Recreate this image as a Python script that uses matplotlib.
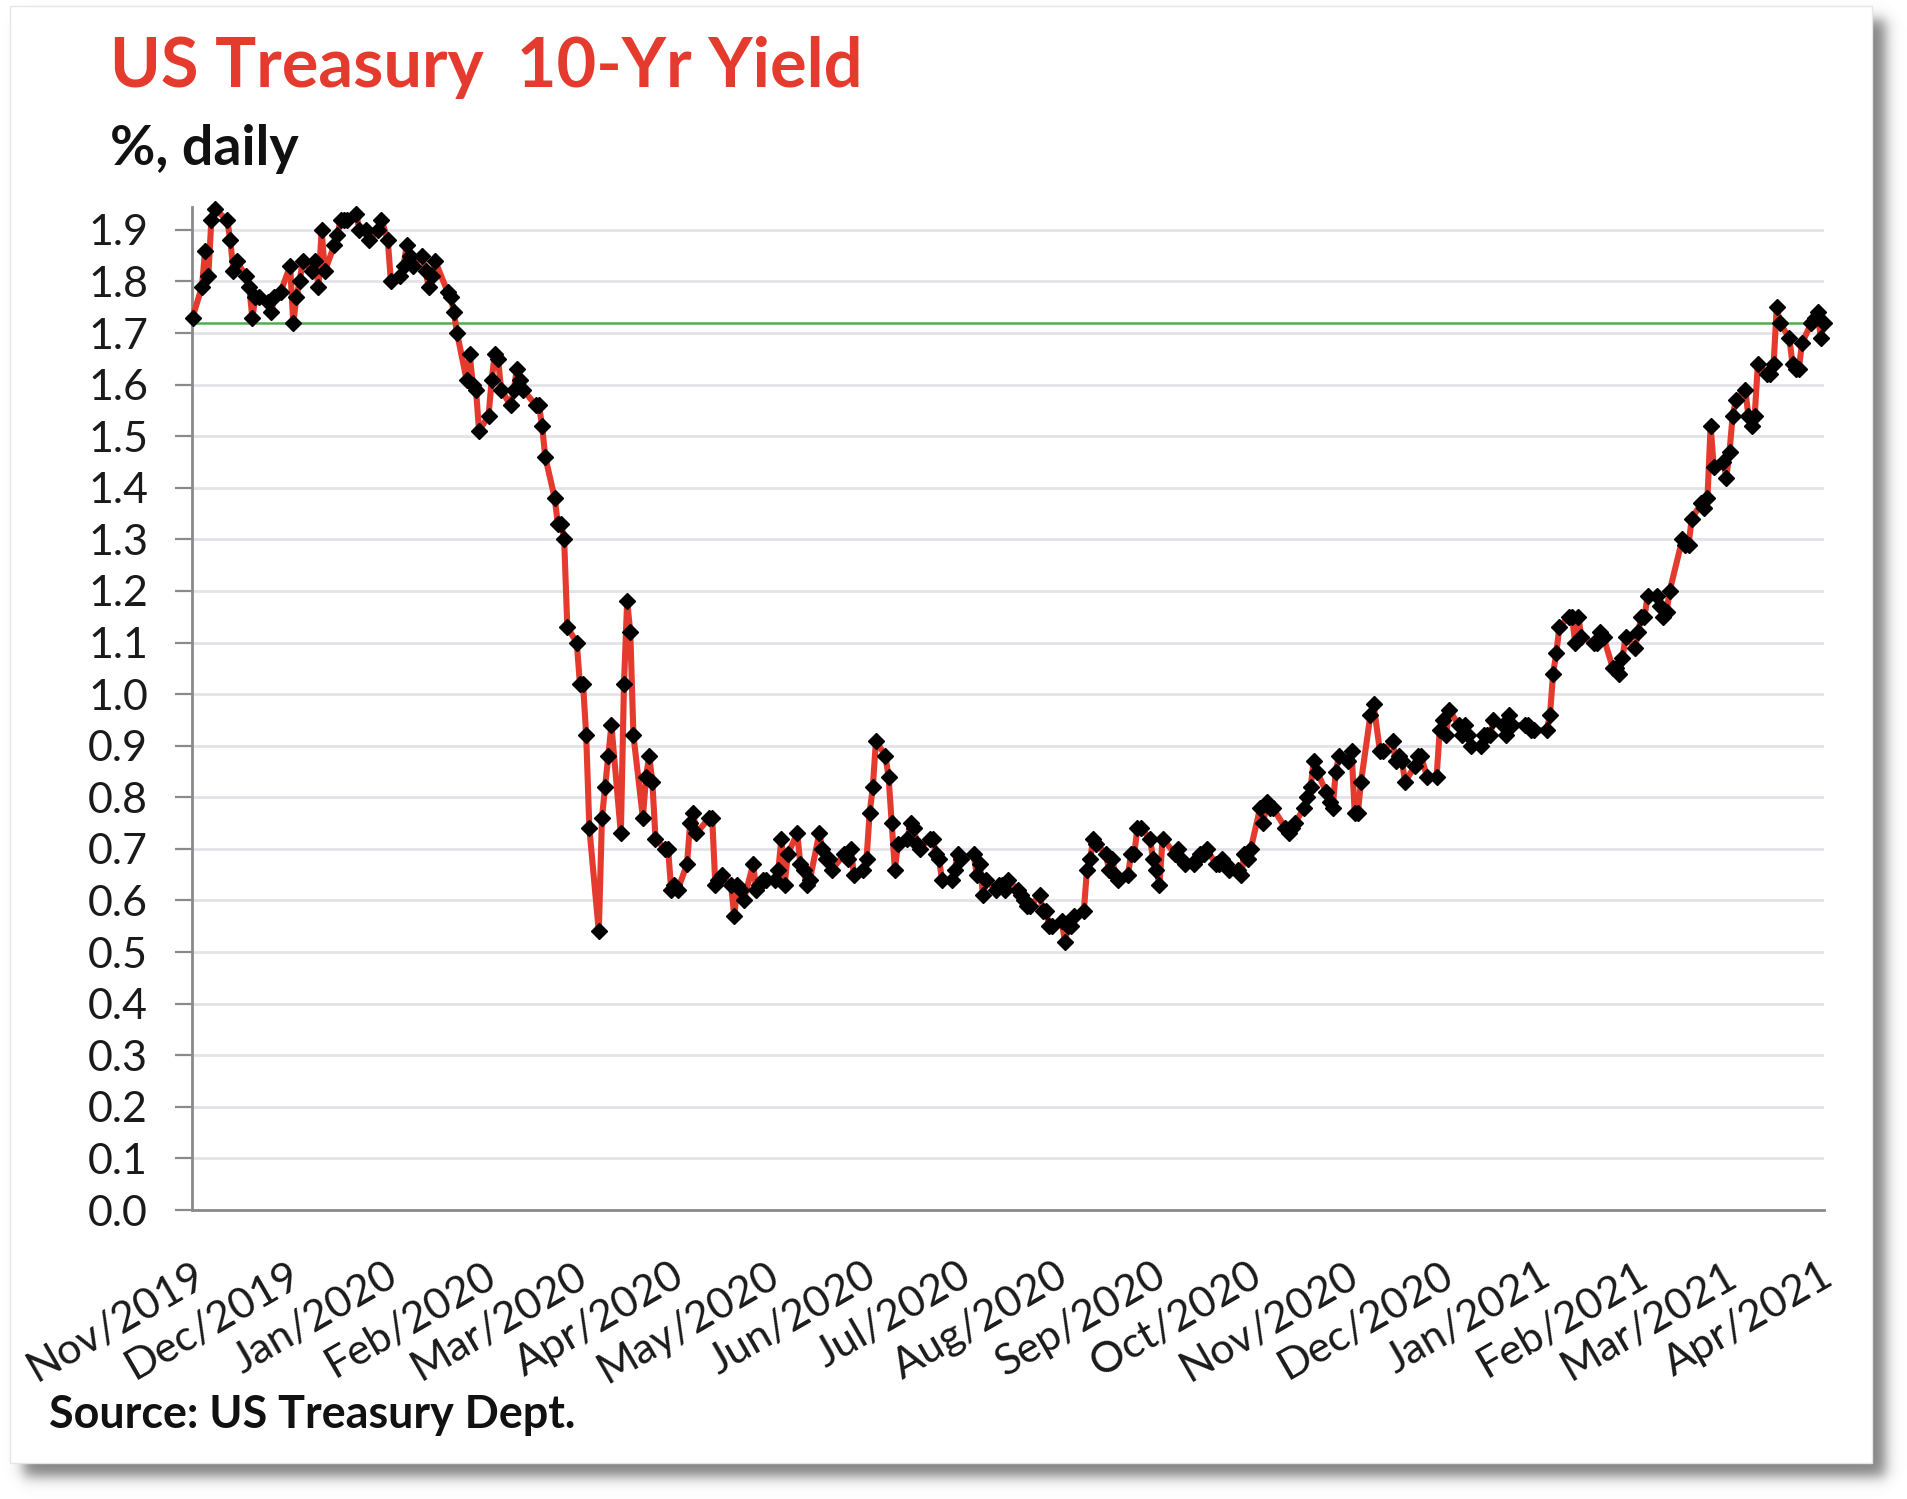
import numpy as np
import pandas as pd
import matplotlib
matplotlib.use("Agg")
import matplotlib.pyplot as plt
import matplotlib.dates as mdates
from matplotlib.patches import Rectangle

# ---------------- data (10-yr yield, %, daily) ----------------
nov19_days = [1, 4, 5, 6, 7, 8, 12, 13, 14, 15, 18, 19, 20, 21, 22, 25, 26, 27, 29]
nov19_vals = [1.73, 1.79, 1.86, 1.81, 1.92, 1.94, 1.92, 1.88, 1.82, 1.84, 1.81, 1.79, 1.73, 1.77, 1.77, 1.76, 1.74, 1.77, 1.78]
dec19_days = [2, 3, 4, 5, 6, 9, 10, 11, 12, 13, 16, 17, 18, 19, 20, 23, 24, 26, 27, 30, 31]
dec19_vals = [1.83, 1.72, 1.77, 1.80, 1.84, 1.82, 1.84, 1.79, 1.90, 1.82, 1.87, 1.89, 1.92, 1.92, 1.92, 1.93, 1.90, 1.90, 1.88, 1.90, 1.92]
jan20_days = [2, 3, 6, 7, 8, 9, 10, 13, 14, 15, 16, 17, 21, 22, 23, 24, 27, 28, 29, 30, 31]
jan20_vals = [1.88, 1.80, 1.81, 1.83, 1.87, 1.85, 1.83, 1.85, 1.82, 1.79, 1.81, 1.84, 1.78, 1.77, 1.74, 1.70, 1.61, 1.66, 1.60, 1.59, 1.51]
feb20_days = [3, 4, 5, 6, 7, 10, 11, 12, 13, 14, 18, 19, 20, 21, 24, 25, 26, 27, 28]
feb20_vals = [1.54, 1.61, 1.66, 1.65, 1.59, 1.56, 1.59, 1.63, 1.61, 1.59, 1.56, 1.56, 1.52, 1.46, 1.38, 1.33, 1.33, 1.30, 1.13]
mar20_days = [2, 3, 4, 5, 6, 9, 10, 11, 12, 13, 16, 17, 18, 19, 20, 23, 24, 25, 26, 27, 30, 31]
mar20_vals = [1.10, 1.02, 1.02, 0.92, 0.74, 0.54, 0.76, 0.82, 0.88, 0.94, 0.73, 1.02, 1.18, 1.12, 0.92, 0.76, 0.84, 0.88, 0.83, 0.72, 0.70, 0.70]
apr20_days = [1, 2, 3, 6, 7, 8, 9, 13, 14, 15, 16, 17, 20, 21, 22, 23, 24, 27, 28, 29, 30]
apr20_vals = [0.62, 0.63, 0.62, 0.67, 0.75, 0.77, 0.73, 0.76, 0.76, 0.63, 0.64, 0.65, 0.63, 0.57, 0.63, 0.62, 0.60, 0.67, 0.62, 0.63, 0.64]
may20_days = [1, 4, 5, 6, 7, 8, 11, 12, 13, 14, 15, 18, 19, 20, 21, 22, 26, 27, 28, 29]
may20_vals = [0.64, 0.64, 0.66, 0.72, 0.63, 0.69, 0.73, 0.67, 0.66, 0.63, 0.64, 0.73, 0.70, 0.68, 0.68, 0.66, 0.69, 0.68, 0.70, 0.65]
jun20_days = [1, 2, 3, 4, 5, 8, 9, 10, 11, 12, 15, 16, 17, 18, 19, 22, 23, 24, 25, 26, 29, 30]
jun20_vals = [0.66, 0.68, 0.77, 0.82, 0.91, 0.88, 0.84, 0.75, 0.66, 0.71, 0.72, 0.75, 0.74, 0.71, 0.70, 0.72, 0.72, 0.69, 0.68, 0.64, 0.64, 0.66]
jul20_days = [1, 2, 6, 7, 8, 9, 10, 13, 14, 15, 16, 17, 20, 21, 22, 23, 24, 27, 28, 29, 30, 31]
jul20_vals = [0.69, 0.68, 0.69, 0.65, 0.67, 0.61, 0.64, 0.62, 0.63, 0.63, 0.62, 0.64, 0.62, 0.61, 0.60, 0.59, 0.59, 0.61, 0.58, 0.58, 0.55, 0.55]
aug20_days = [3, 4, 5, 6, 7, 10, 11, 12, 13, 14, 17, 18, 19, 20, 21, 24, 25, 26, 27, 28, 31]
aug20_vals = [0.56, 0.52, 0.55, 0.55, 0.57, 0.58, 0.66, 0.68, 0.72, 0.71, 0.69, 0.66, 0.68, 0.65, 0.64, 0.65, 0.69, 0.69, 0.74, 0.74, 0.72]
sep20_days = [1, 2, 3, 4, 8, 9, 10, 11, 14, 15, 16, 17, 18, 21, 22, 23, 24, 25, 28, 29, 30]
sep20_vals = [0.68, 0.66, 0.63, 0.72, 0.69, 0.70, 0.68, 0.67, 0.67, 0.68, 0.69, 0.69, 0.70, 0.67, 0.67, 0.68, 0.67, 0.66, 0.66, 0.65, 0.69]
oct20_days = [1, 2, 5, 6, 7, 8, 9, 13, 14, 15, 16, 19, 20, 21, 22, 23, 26, 27, 28, 29, 30]
oct20_vals = [0.68, 0.70, 0.78, 0.75, 0.79, 0.78, 0.78, 0.74, 0.73, 0.74, 0.75, 0.78, 0.80, 0.82, 0.87, 0.85, 0.81, 0.79, 0.78, 0.85, 0.88]
nov20_days = [2, 3, 4, 5, 6, 9, 10, 12, 13, 16, 17, 18, 19, 20, 23, 24, 25, 27, 30]
nov20_vals = [0.87, 0.89, 0.77, 0.77, 0.83, 0.96, 0.98, 0.89, 0.89, 0.91, 0.87, 0.88, 0.87, 0.83, 0.86, 0.88, 0.88, 0.84, 0.84]
dec20_days = [1, 2, 3, 4, 7, 8, 9, 10, 11, 14, 15, 16, 17, 18, 21, 22, 23, 24, 28, 29, 30, 31]
dec20_vals = [0.93, 0.95, 0.92, 0.97, 0.94, 0.92, 0.94, 0.92, 0.90, 0.90, 0.92, 0.92, 0.92, 0.95, 0.94, 0.92, 0.96, 0.94, 0.94, 0.94, 0.93, 0.93]
jan21_days = [4, 5, 6, 7, 8, 11, 12, 13, 14, 15, 19, 20, 21, 22, 25, 26, 27, 28, 29]
jan21_vals = [0.93, 0.96, 1.04, 1.08, 1.13, 1.15, 1.15, 1.10, 1.15, 1.11, 1.10, 1.10, 1.12, 1.11, 1.05, 1.05, 1.04, 1.07, 1.11]
feb21_days = [1, 2, 3, 4, 5, 8, 9, 10, 11, 12, 16, 17, 18, 19, 22, 23, 24, 25, 26]
feb21_vals = [1.09, 1.12, 1.15, 1.15, 1.19, 1.19, 1.17, 1.15, 1.16, 1.20, 1.30, 1.29, 1.29, 1.34, 1.37, 1.36, 1.38, 1.52, 1.44]
mar21_days = [1, 2, 3, 4, 5, 8, 9, 10, 11, 12, 15, 16, 17, 18, 19, 22, 23, 24, 25, 26, 29, 30, 31]
mar21_vals = [1.45, 1.42, 1.47, 1.54, 1.57, 1.59, 1.54, 1.52, 1.54, 1.64, 1.62, 1.62, 1.64, 1.75, 1.72, 1.69, 1.64, 1.63, 1.63, 1.68, 1.72, 1.73, 1.74]
apr21_days = [1, 2]
apr21_vals = [1.69, 1.72]

reference_level = 1.72

tick_labels = ["Nov/2019", "Dec/2019", "Jan/2020", "Feb/2020", "Mar/2020", "Apr/2020",
               "May/2020", "Jun/2020", "Jul/2020", "Aug/2020", "Sep/2020", "Oct/2020",
               "Nov/2020", "Dec/2020", "Jan/2021", "Feb/2021", "Mar/2021", "Apr/2021"]

months = [(2019, 11, nov19_days, nov19_vals), (2019, 12, dec19_days, dec19_vals),
          (2020, 1, jan20_days, jan20_vals), (2020, 2, feb20_days, feb20_vals),
          (2020, 3, mar20_days, mar20_vals), (2020, 4, apr20_days, apr20_vals),
          (2020, 5, may20_days, may20_vals), (2020, 6, jun20_days, jun20_vals),
          (2020, 7, jul20_days, jul20_vals), (2020, 8, aug20_days, aug20_vals),
          (2020, 9, sep20_days, sep20_vals), (2020, 10, oct20_days, oct20_vals),
          (2020, 11, nov20_days, nov20_vals), (2020, 12, dec20_days, dec20_vals),
          (2021, 1, jan21_days, jan21_vals), (2021, 2, feb21_days, feb21_vals),
          (2021, 3, mar21_days, mar21_vals), (2021, 4, apr21_days, apr21_vals)]

dates, values = [], []
for y, m, ds, vs in months:
    assert len(ds) == len(vs)
    for d, v in zip(ds, vs):
        dates.append(pd.Timestamp(y, m, d))
        values.append(v)

# ---------------- figure ----------------
W, H = 1908, 1499
fig = plt.figure(figsize=(W / 100, H / 100), dpi=100)
fig.patch.set_facecolor("white")

def fx(px):
    return px / W

def fy(py):
    return 1 - py / H

# shadow of the chart panel
px0, py0, px1, py1 = 10, 6, 1872, 1463
off, s = 13, 8.0
xx = np.arange(W)[None, :]
yy = np.arange(H)[:, None]
ax_ = 0.5 * (1 + np.tanh((xx - (px0 + off)) / s)) * 0.5 * (1 - np.tanh((xx - (px1 + off)) / s))
ay_ = 0.5 * (1 + np.tanh((yy - (py0 + off)) / s)) * 0.5 * (1 - np.tanh((yy - (py1 + off)) / s))
alpha = 0.85 * ax_ * ay_
shadow = np.zeros((H, W, 4))
shadow[..., 0:3] = 0.42
shadow[..., 3] = alpha
fig.figimage(shadow, xo=0, yo=0, origin="upper", zorder=0)

panel = Rectangle((fx(px0), fy(py1)), fx(px1) - fx(px0), fy(py0) - fy(py1),
                  transform=fig.transFigure, facecolor="white", edgecolor="#E6E6E6",
                  linewidth=1.0, zorder=1)
fig.patches.append(panel)

# ---------------- axes ----------------
left, right, top, bottom = 192.5, 1824, 206.7, 1210
ax = fig.add_axes([fx(left), fy(bottom), fx(right) - fx(left), fy(top) - fy(bottom)])
ax.set_zorder(2)
ax.set_facecolor("none")

red = "#E53A2E"
ax.axhline(reference_level, color="#4CAF50", lw=1.8, zorder=2)
ax.plot(dates, values, color=red, lw=4.4, marker="D", ms=8.5,
        markerfacecolor="black", markeredgecolor="black", zorder=3, clip_on=False)

ax.set_ylim(0, 1.945)
ax.set_yticks(np.round(np.arange(0, 1.91, 0.1), 1))
ax.set_yticklabels([f"{v:.1f}" for v in np.arange(0, 1.91, 0.1)])
ax.set_xlim(mdates.date2num(pd.Timestamp(2019, 11, 1)), mdates.date2num(pd.Timestamp(2021, 4, 2)))

tick_dates = pd.date_range("2019-11-01", "2021-04-01", freq="MS")
ax.set_xticks(mdates.date2num(tick_dates))
ax.set_xticklabels(tick_labels, rotation=30, ha="right", va="top", rotation_mode="anchor")

ax.yaxis.grid(True, color="#E2E2E8", lw=2)
ax.xaxis.grid(False)
ax.set_axisbelow(True)

for sp in ["top", "right"]:
    ax.spines[sp].set_visible(False)
for sp in ["left", "bottom"]:
    ax.spines[sp].set_color("#8A8A8A")
    ax.spines[sp].set_linewidth(2)

font = "Lato"
ax.tick_params(axis="y", direction="out", length=12, width=1.6, color="#8A8A8A",
               pad=20, labelsize=31, labelcolor="#1A1A1A")
ax.tick_params(axis="x", length=0, pad=33, labelsize=31, labelcolor="#1A1A1A")
for lab in ax.get_yticklabels() + ax.get_xticklabels():
    lab.set_fontfamily(font)

# ---------------- texts ----------------
fig.text(fx(110), fy(87), "US Treasury  10-Yr Yield", color=red, fontsize=49.3,
         fontweight="bold", fontfamily=font, va="baseline", ha="left", zorder=3)
fig.text(fx(110), fy(165), "%, daily", color="#111111", fontsize=40,
         fontweight="bold", fontfamily=font, va="baseline", ha="left", zorder=3)
fig.text(fx(49), fy(1428), "Source: US Treasury Dept.", color="#111111", fontsize=32.3,
         fontweight="bold", fontfamily=font, va="baseline", ha="left", zorder=3)

fig.savefig("out.png", dpi=100, facecolor="white")
